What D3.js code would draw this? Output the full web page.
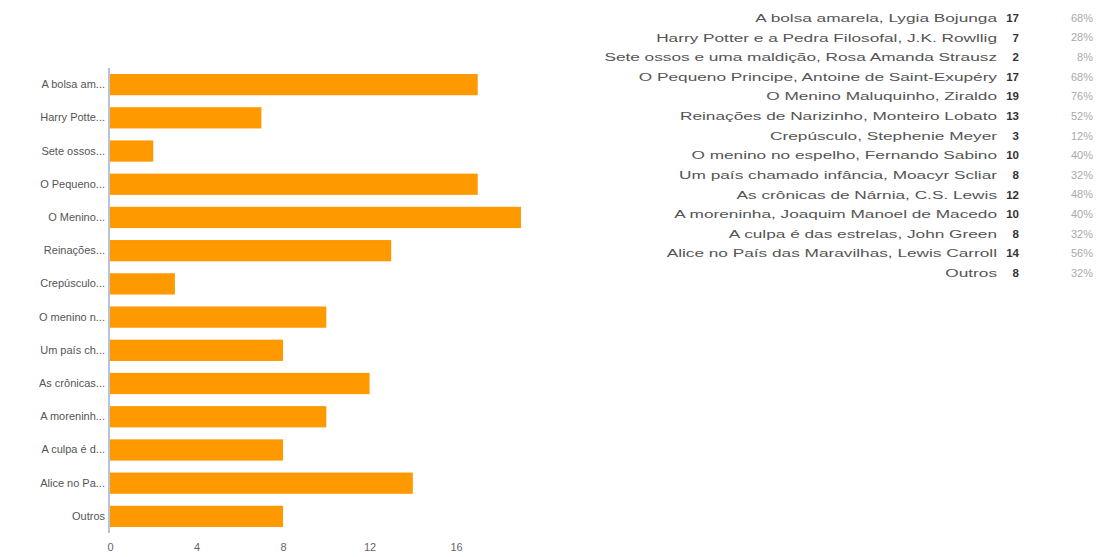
<!DOCTYPE html>
<html>
<head>
<meta charset="utf-8">
<script src="https://cdnjs.cloudflare.com/ajax/libs/d3/7.8.5/d3.min.js"></script>
<style>
  body { margin: 0; background: #fff; }
  svg { display: block; font-family: "Liberation Sans", Arial, sans-serif; }
</style>
</head>
<body>
<div id="chart"></div>
<script>
var books = [
  "A bolsa amarela, Lygia Bojunga",
  "Harry Potter e a Pedra Filosofal, J.K. Rowllig",
  "Sete ossos e uma maldição, Rosa Amanda Strausz",
  "O Pequeno Principe, Antoine de Saint-Exupéry",
  "O Menino Maluquinho, Ziraldo",
  "Reinações de Narizinho, Monteiro Lobato",
  "Crepúsculo, Stephenie Meyer",
  "O menino no espelho, Fernando Sabino",
  "Um país chamado infância, Moacyr Scliar",
  "As crônicas de Nárnia, C.S. Lewis",
  "A moreninha, Joaquim Manoel de Macedo",
  "A culpa é das estrelas, John Green",
  "Alice no País das Maravilhas, Lewis Carroll",
  "Outros"
];
var shortLabels = [
  "A bolsa am...", "Harry Potte...", "Sete ossos...", "O Pequeno...",
  "O Menino...", "Reinações...", "Crepúsculo...", "O menino n...",
  "Um país ch...", "As crônicas...", "A moreninh...", "A culpa é d...",
  "Alice no Pa...", "Outros"
];
var counts = [17, 7, 2, 17, 19, 13, 3, 10, 8, 12, 10, 8, 14, 8];
var percents = ["68%", "28%", "8%", "68%", "76%", "52%", "12%", "40%", "32%", "48%", "40%", "32%", "56%", "32%"];
var xTicks = [0, 4, 8, 12, 16];

var width = 1099, height = 557;

var svg = d3.select("#chart").append("svg")
    .attr("width", width)
    .attr("height", height);

var x = d3.scaleLinear()
    .domain([0, 20])
    .range([110, 542.6]);

var y = d3.scaleBand()
    .domain(d3.range(books.length))
    .range([68, 533])
    .paddingInner(0.36)
    .paddingOuter(0.18);

// bars
svg.append("g")
    .selectAll("rect")
    .data(counts)
    .enter().append("rect")
    .attr("x", x(0))
    .attr("y", function(d, i) { return y(i); })
    .attr("width", function(d) { return x(d) - x(0); })
    .attr("height", y.bandwidth())
    .attr("fill", "#ff9900");

// y axis with truncated labels
var yAxis = d3.axisLeft(y)
    .tickSize(0)
    .tickPadding(4)
    .tickFormat(function(i) { return shortLabels[i]; });

var gy = svg.append("g")
    .attr("transform", "translate(109,0)")
    .call(yAxis);
gy.select(".domain").remove();
gy.selectAll("text")
    .attr("fill", "#555")
    .style("font-size", "11px")
    .style("font-family", "Liberation Sans, Arial, sans-serif");

svg.append("line")
    .attr("x1", 109).attr("x2", 109)
    .attr("y1", 68).attr("y2", 533)
    .attr("stroke", "#9db0cc")
    .attr("stroke-width", 1.5);

// x axis
var xAxis = d3.axisBottom(x)
    .tickValues(xTicks)
    .tickSize(0)
    .tickPadding(0);

var gx = svg.append("g")
    .attr("transform", "translate(0,543)")
    .call(xAxis);
gx.select(".domain").remove();
gx.selectAll("text")
    .attr("fill", "#666")
    .style("font-size", "11px")
    .style("font-family", "Liberation Sans, Arial, sans-serif");

// summary table
var rowY = d3.scalePoint()
    .domain(d3.range(books.length))
    .range([18, 273]);

var rows = svg.append("g").selectAll("g")
    .data(books)
    .enter().append("g")
    .attr("transform", function(d, i) { return "translate(0," + rowY(i) + ")"; });

// the book names are drawn wide, as in the source
rows.append("text")
    .attr("transform", "translate(997,0) scale(1.5,1)")
    .attr("dy", "0.35em")
    .attr("text-anchor", "end")
    .attr("fill", "#555")
    .style("font-size", "11.5px")
    .text(function(d) { return d; });

rows.append("text")
    .attr("x", 1019)
    .attr("dy", "0.35em")
    .attr("text-anchor", "end")
    .attr("fill", "#333")
    .style("font-size", "11.5px")
    .style("font-weight", "bold")
    .text(function(d, i) { return counts[i]; });

rows.append("text")
    .attr("x", 1093)
    .attr("dy", "0.35em")
    .attr("text-anchor", "end")
    .attr("fill", "#aaa")
    .style("font-size", "11px")
    .text(function(d, i) { return percents[i]; });
</script>
</body>
</html>
